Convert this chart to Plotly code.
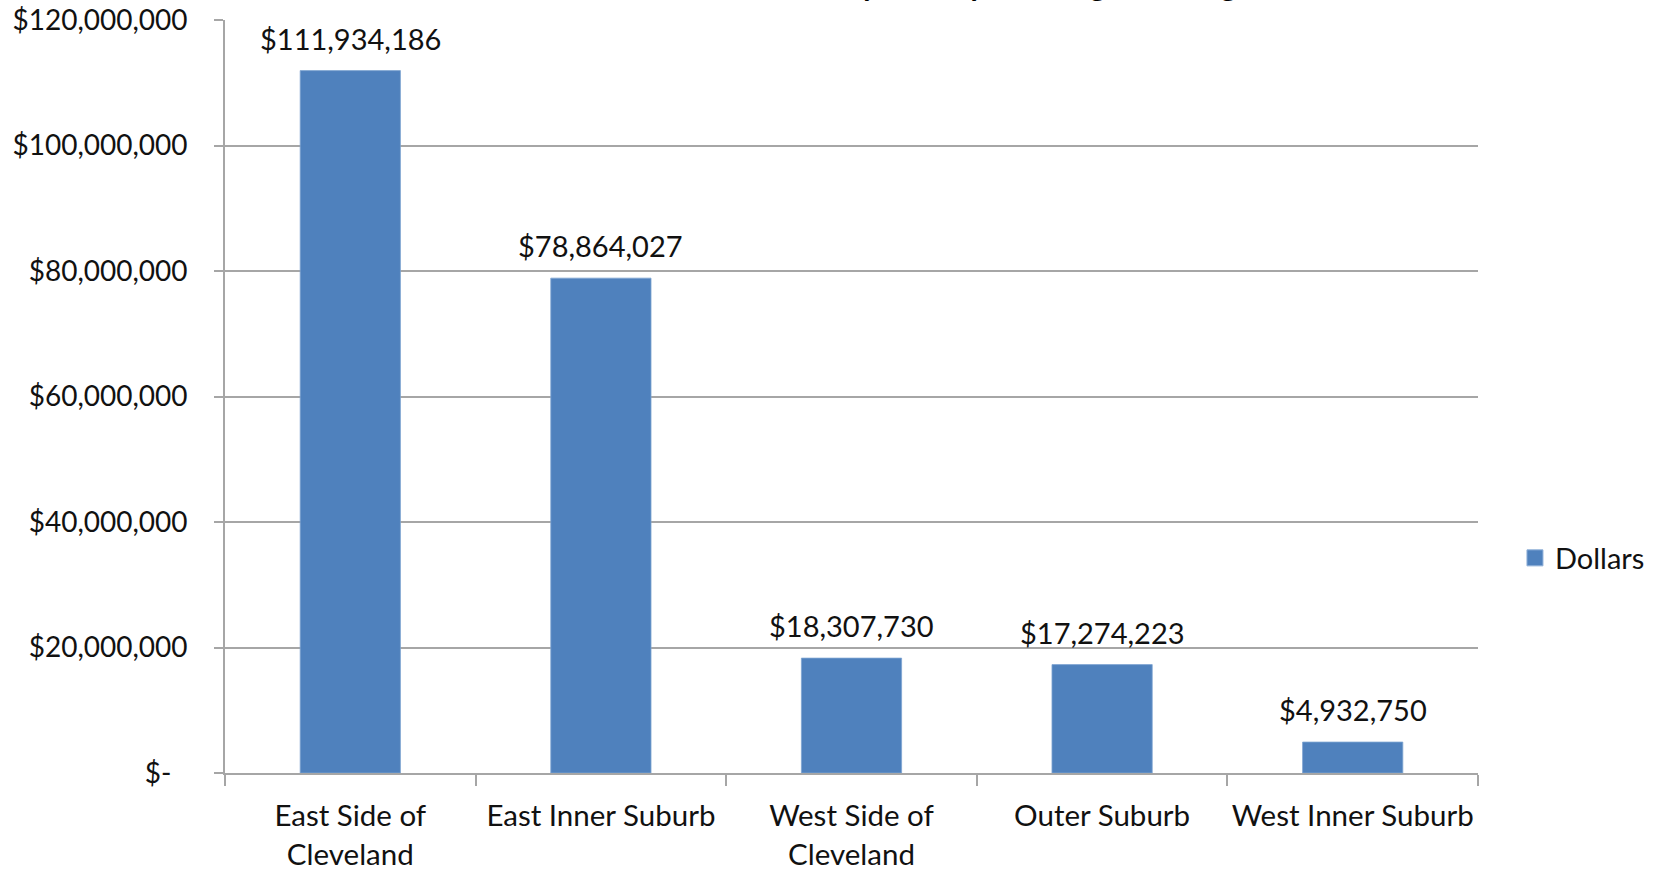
import plotly.graph_objects as go

categories = ["East Side of<br>Cleveland", "East Inner Suburb", "West Side of<br>Cleveland",
              "Outer Suburb", "West Inner Suburb"]
dollars = [111934186, 78864027, 18307730, 17274223, 4932750]
ytick_vals = [0, 20000000, 40000000, 60000000, 80000000, 100000000, 120000000]
ytick_text = ["$-\u00a0\u00a0\u200a", "$20,000,000", "$40,000,000", "$60,000,000",
              "$80,000,000", "$100,000,000", "$120,000,000"]
series_name = "Dollars"
title_text = "Total Dollars Invested by County Housing Area Region"

BLUE = "#4F81BD"
GRID = "#A6A6A6"
FONT = "Lato"
TXT = "#111111"

fig = go.Figure()
fig.add_trace(go.Bar(
    x=categories, y=dollars, name=series_name,
    marker=dict(color=BLUE, line=dict(color="#7FA5D2", width=0.8)),
    showlegend=False, width=0.4,
))
# legend swatch
fig.add_trace(go.Scatter(
    x=[None], y=[None], mode="markers", name=series_name,
    marker=dict(symbol="square", size=18, color=BLUE, line=dict(color="#8FB0D8", width=1)),
))

for c, v in zip(categories, dollars):
    fig.add_annotation(x=c, y=v, text="${:,}".format(v), showarrow=False,
                       yanchor="bottom", yshift=13,
                       font=dict(family=FONT, size=29, color=TXT))

fig.add_annotation(xref="paper", yref="paper", x=0.5, y=1, xanchor="center", yanchor="bottom",
                   yshift=14.5, xshift=58, text="<b>" + title_text + "</b>", showarrow=False,
                   font=dict(family=FONT, size=31, color="#000000"))

fig.update_layout(
    width=1661, height=869,
    margin=dict(l=225, r=183, t=20, b=96, autoexpand=False),
    paper_bgcolor="white", plot_bgcolor="white",
    font=dict(family=FONT, size=29, color=TXT),
    showlegend=True,
    legend=dict(x=1.0295, y=0.2855, xanchor="left", yanchor="middle",
                font=dict(family=FONT, size=29, color=TXT), itemwidth=30),
    bargap=0.6,
)
fig.update_xaxes(
    showline=True, linecolor=GRID, linewidth=1.7, automargin=False,
    ticks="outside", tickson="boundaries", ticklen=11, tickcolor=GRID, tickwidth=1.7,
    showgrid=False, ticklabelstandoff=16, tickangle=0,
    tickfont=dict(family=FONT, size=29.5, color=TXT),
)
fig.update_yaxes(
    range=[0, 120000000], tickvals=ytick_vals, ticktext=ytick_text,
    showline=True, linecolor=GRID, linewidth=1.7, automargin=False,
    ticks="outside", ticklen=9, tickcolor=GRID, tickwidth=1.7,
    showgrid=True, gridcolor=GRID, gridwidth=1.7, zeroline=False,
    ticklabelstandoff=21,
    tickfont=dict(family=FONT, size=28, color=TXT),
)

fig.write_html("out.html")
